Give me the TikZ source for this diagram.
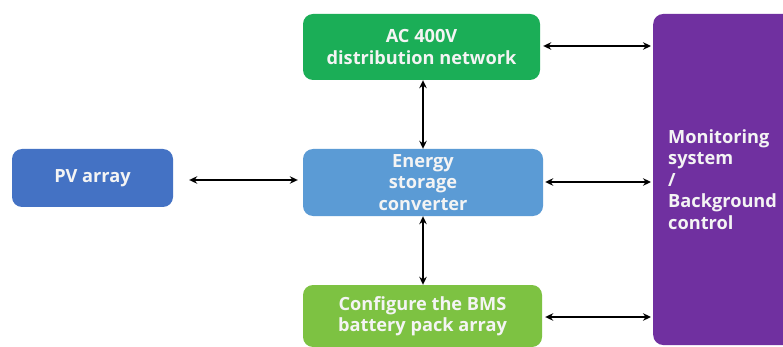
\documentclass[tikz,border=0pt]{standalone}
\usepackage{fontspec}
\setmainfont{Open Sans}
\usetikzlibrary{arrows.meta}
\definecolor{acgreen}{HTML}{1BAE57}
\definecolor{pvblue}{HTML}{4472C4}
\definecolor{escblue}{HTML}{5B9BD5}
\definecolor{bmsgreen}{HTML}{7DC242}
\definecolor{monpurple}{HTML}{7030A0}
\definecolor{boxtext}{HTML}{F4F4F4}
\tikzset{
  blockbox/.style={rounded corners=10pt, inner sep=0pt, font=\bfseries\fontsize{18.2}{21.5}\selectfont,
    text=boxtext, align=center},
  link/.style={{Stealth[length=8pt,width=7.5pt]}-{Stealth[length=8pt,width=7.5pt]}, line width=2pt, black}
}
\begin{document}
\begin{tikzpicture}[x=1pt,y=-1pt]
\useasboundingbox (0,0) rectangle (783,347);
\clip (0,0) rectangle (783,347);
\fill[white] (0,0) rectangle (783,347);
% blocks
\node[blockbox, fill=acgreen, minimum width=237pt, minimum height=66pt] (ac) at (421.5,47) {AC 400V\\distribution network};
\node[blockbox, fill=pvblue, minimum width=161pt, minimum height=58pt] (pv) at (92.5,178) {PV array};
\node[blockbox, fill=escblue, minimum width=240pt, minimum height=67pt] (esc) at (423,182.5) {Energy\\storage\\converter};
\node[blockbox, fill=bmsgreen, minimum width=239pt, minimum height=62pt] (bms) at (422.5,316) {Configure the BMS\\battery pack array};
\node[blockbox, fill=monpurple, minimum width=150pt, minimum height=331pt, align=left, anchor=west, text width=120pt] (mon) at (653,179.5) {Monitoring\\system\\/\\Background\\control};
% vertical links
\coordinate (acb) at (423,82);
\coordinate (esct) at (423,147);
\coordinate (escb) at (423,218);
\coordinate (bmst) at (423,283);
\draw[link] (ac.south -| acb) -- (esc.north -| esct);
\draw[link] (esc.south -| escb) -- (bms.north -| bmst);
% horizontal links
\draw[link] ([xshift=16pt]pv.east |- 0,180) -- ([xshift=-5pt]esc.west |- 0,180);
\draw[link] ([xshift=3pt]ac.east |- 0,46) -- ([xshift=-2pt]mon.west |- 0,46);
\draw[link] ([xshift=2pt]esc.east |- 0,182) -- ([xshift=-2pt]mon.west |- 0,182);
\draw[link] ([xshift=3pt]bms.east |- 0,317) -- ([xshift=-2pt]mon.west |- 0,317);
\end{tikzpicture}
\end{document}
